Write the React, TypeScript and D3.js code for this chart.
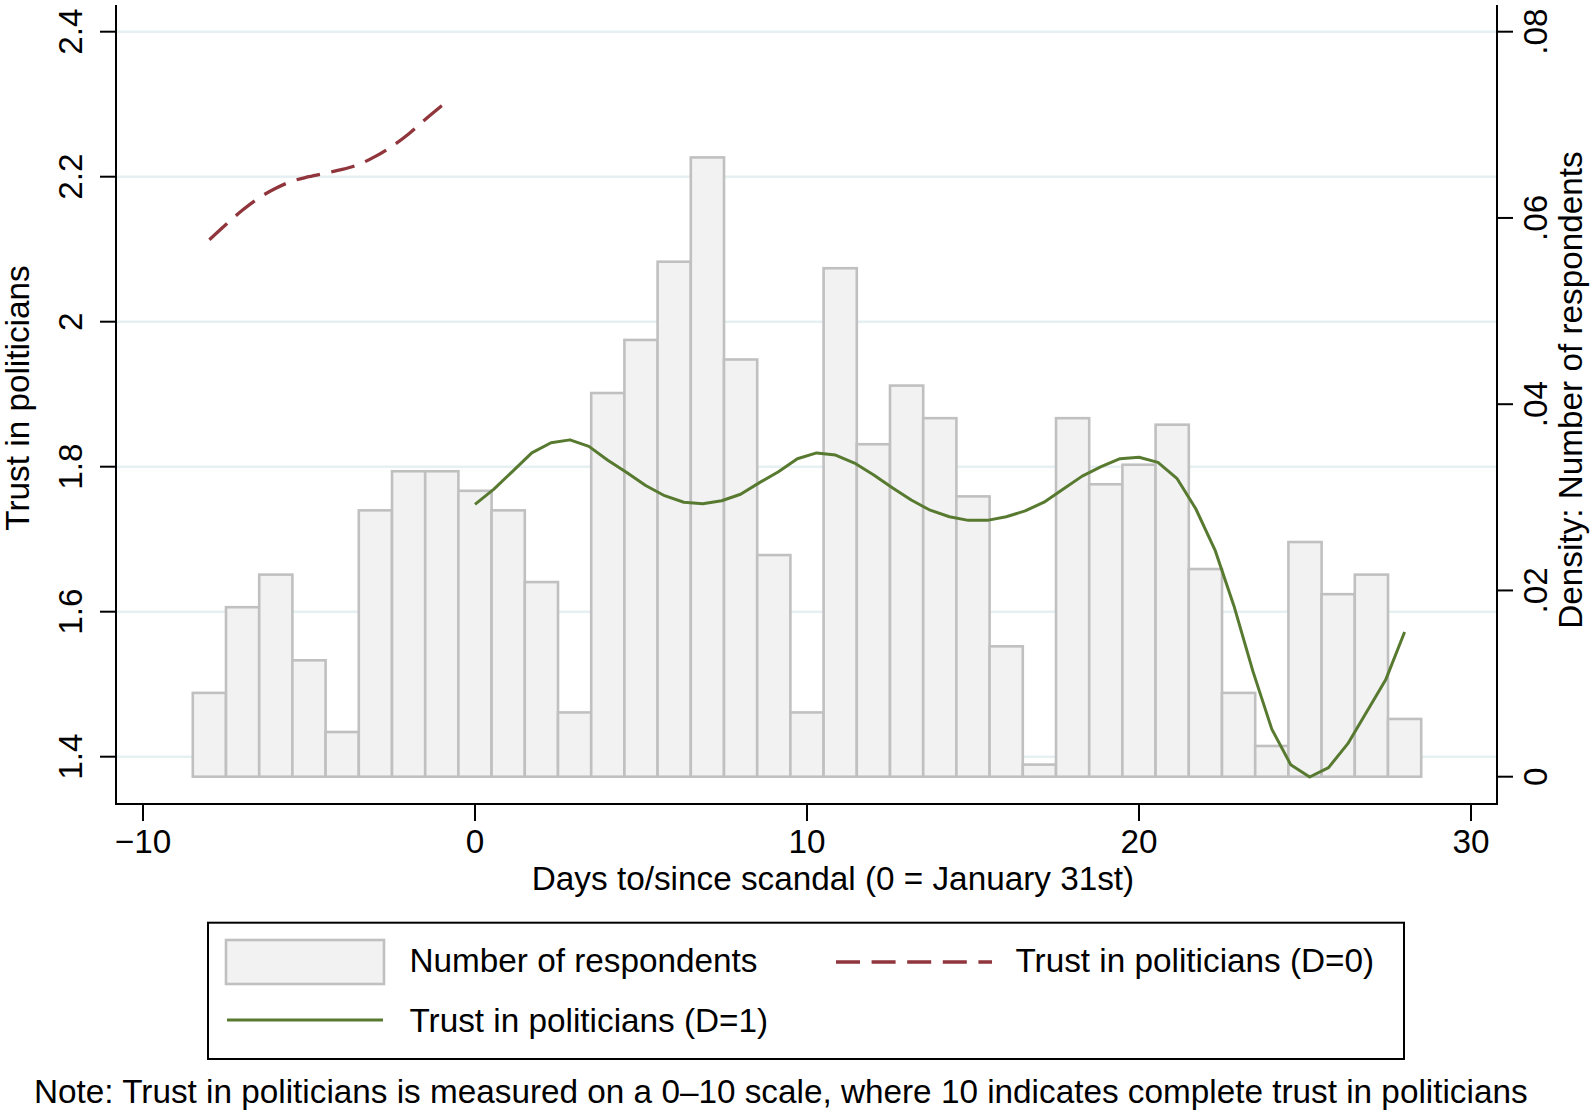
import React from "react";
import * as d3 from "d3";

// ---------- data ----------
const barDays = [-8, -7, -6, -5, -4, -3, -2, -1, 0, 1, 2, 3, 4, 5, 6, 7, 8, 9, 10, 11, 12, 13, 14, 15, 16, 17, 18, 19, 20, 21, 22, 23, 24, 25, 26, 27, 28];
const barDensity = [0.0090, 0.0182, 0.0217, 0.0125, 0.0048, 0.0286, 0.0328, 0.0328, 0.0307, 0.0286, 0.0209, 0.0069, 0.0412, 0.0469, 0.0553, 0.0665, 0.0448, 0.0238, 0.0069, 0.0546, 0.0357, 0.0420, 0.0385, 0.0301, 0.0140, 0.0013, 0.0385, 0.0314, 0.0335, 0.0378, 0.0223, 0.0090, 0.0033, 0.0252, 0.0196, 0.0217, 0.0062];

const d1Days = [0, 0.57, 1.14, 1.71, 2.29, 2.86, 3.43, 4.0, 4.57, 5.14, 5.71, 6.29, 6.86, 7.43, 8.0, 8.57, 9.14, 9.71, 10.29, 10.86, 11.43, 12.0, 12.57, 13.14, 13.71, 14.29, 14.86, 15.43, 16.0, 16.57, 17.14, 17.71, 18.29, 18.86, 19.43, 20.0, 20.57, 21.14, 21.71, 22.29, 22.86, 23.43, 24.0, 24.57, 25.14, 25.71, 26.29, 26.86, 27.43, 28.0];
const d1Trust = [1.748, 1.769, 1.794, 1.819, 1.833, 1.837, 1.828, 1.809, 1.792, 1.774, 1.760, 1.751, 1.749, 1.753, 1.762, 1.778, 1.793, 1.811, 1.819, 1.816, 1.805, 1.789, 1.771, 1.754, 1.740, 1.731, 1.726, 1.726, 1.731, 1.739, 1.751, 1.769, 1.787, 1.800, 1.811, 1.813, 1.806, 1.784, 1.742, 1.685, 1.608, 1.518, 1.438, 1.389, 1.372, 1.385, 1.418, 1.462, 1.506, 1.572];

const d0Days = [-8, -7.5, -7, -6.5, -6, -5.5, -5, -4.5, -4, -3.5, -3, -2.5, -2, -1.5, -1];
const d0Trust = [2.113, 2.134, 2.154, 2.171, 2.184, 2.194, 2.2, 2.205, 2.21, 2.217, 2.228, 2.242, 2.259, 2.279, 2.298];

const xTicks = [-10, 0, 10, 20, 30];
const xTickLabels = ["\u221210", "0", "10", "20", "30"];
const leftTicks = [1.4, 1.6, 1.8, 2.0, 2.2, 2.4];
const leftTickLabels = ["1.4", "1.6", "1.8", "2", "2.2", "2.4"];
const rightTicks = [0, 0.02, 0.04, 0.06, 0.08];
const rightTickLabels = ["0", ".02", ".04", ".06", ".08"];

const xTitle = "Days to/since scandal (0 = January 31st)";
const leftTitle = "Trust in politicians";
const rightTitle = "Density: Number of respondents";
const legendLabels = ["Number of respondents", "Trust in politicians (D=0)", "Trust in politicians (D=1)"];
const note = "Note: Trust in politicians is measured on a 0\u201310 scale, where 10 indicates complete trust in politicians";

// ---------- style ----------
const W = 1595;
const H = 1119;
const FONT = "'Liberation Sans', Arial, Helvetica, sans-serif";
const FS = 33.3;
const GREEN = "#587a30";
const RED = "#90353b";
const BAR_FILL = "#f2f2f2";
const BAR_STROKE = "#c0c0c0";
const GRID = "#e6eff2";

export default function App() {
  const x = d3.scaleLinear().domain([-10, 30]).range([143, 1471]);
  const yL = d3.scaleLinear().domain([1.4, 2.4]).range([756.7, 31.7]);
  const yR = d3.scaleLinear().domain([0, 0.08]).range([776.7, 31.7]);

  const axL = 116, axR = 1497, axB = 804, axT = 5;

  const greenLine = d3
    .line<number>()
    .x((_, i) => x(d1Days[i]))
    .y((d) => yL(d))
    .curve(d3.curveLinear)(d1Trust) as string;

  const redLine = d3
    .line<number>()
    .x((_, i) => x(d0Days[i]))
    .y((d) => yL(d))
    .curve(d3.curveMonotoneX)(d0Trust) as string;

  const bw = x(1) - x(0);

  return (
    <svg
      width={W}
      height={H}
      viewBox={`0 0 ${W} ${H}`}
      style={{ position: "absolute", left: 0, top: 0, display: "block", background: "#fff" }}
      fontFamily={FONT}
    >
      <rect x={0} y={0} width={W} height={H} fill="#fff" />
      {/* gridlines */}
      {leftTicks.map((t) => (
        <line key={"g" + t} x1={axL} x2={axR} y1={yL(t)} y2={yL(t)} stroke={GRID} strokeWidth={2.5} />
      ))}
      {/* bars */}
      {barDays.map((d, i) => (
        <rect
          key={"b" + d}
          x={x(d) - bw / 2}
          y={yR(barDensity[i])}
          width={bw}
          height={yR(0) - yR(barDensity[i])}
          fill={BAR_FILL}
          stroke={BAR_STROKE}
          strokeWidth={2.6}
        />
      ))}
      {/* lines */}
      <path d={redLine} fill="none" stroke={RED} strokeWidth={3.3} strokeDasharray="24 11.6" />
      <path d={greenLine} fill="none" stroke={GREEN} strokeWidth={3} strokeLinejoin="round" />

      {/* axes */}
      <line x1={axL} x2={axL} y1={axT} y2={axB + 1} stroke="#000" strokeWidth={2} />
      <line x1={axR} x2={axR} y1={axT} y2={axB + 1} stroke="#000" strokeWidth={2} />
      <line x1={axL} x2={axR + 1} y1={axB} y2={axB} stroke="#000" strokeWidth={2} />

      {/* x ticks */}
      {xTicks.map((t, i) => (
        <g key={"x" + t}>
          <line x1={x(t)} x2={x(t)} y1={axB} y2={axB + 17} stroke="#000" strokeWidth={2} />
          <text x={x(t)} y={853} fontSize={FS} textAnchor="middle" fill="#000">
            {xTickLabels[i]}
          </text>
        </g>
      ))}
      {/* left ticks */}
      {leftTicks.map((t, i) => (
        <g key={"l" + t}>
          <line x1={axL - 16} x2={axL} y1={yL(t)} y2={yL(t)} stroke="#000" strokeWidth={2} />
          <text
            transform={`translate(82,${yL(t)}) rotate(-90)`}
            fontSize={FS}
            textAnchor="middle"
            fill="#000"
          >
            {leftTickLabels[i]}
          </text>
        </g>
      ))}
      {/* right ticks */}
      {rightTicks.map((t, i) => (
        <g key={"r" + t}>
          <line x1={axR} x2={axR + 16} y1={yR(t)} y2={yR(t)} stroke="#000" strokeWidth={2} />
          <text
            transform={`translate(1547,${yR(t)}) rotate(-90)`}
            fontSize={FS}
            textAnchor="middle"
            fill="#000"
          >
            {rightTickLabels[i]}
          </text>
        </g>
      ))}

      {/* axis titles */}
      <text x={833} y={890} fontSize={FS} textAnchor="middle" fill="#000">
        {xTitle}
      </text>
      <text transform={`translate(29,398) rotate(-90)`} fontSize={FS} textAnchor="middle" fill="#000">
        {leftTitle}
      </text>
      <text transform={`translate(1582,390) rotate(-90)`} fontSize={FS} textAnchor="middle" fill="#000">
        {rightTitle}
      </text>

      {/* legend */}
      <rect x={208} y={922.7} width={1404 - 208} height={1059 - 922.7} fill="#fff" stroke="#000" strokeWidth={2} />
      <rect x={226} y={940} width={158} height={44} fill={BAR_FILL} stroke={BAR_STROKE} strokeWidth={2.6} />
      <text x={409.5} y={972} fontSize={FS} fill="#000">
        {legendLabels[0]}
      </text>
      <line x1={836} x2={992} y1={962} y2={962} stroke={RED} strokeWidth={3.3} strokeDasharray="24 11.6" />
      <text x={1015.5} y={972} fontSize={FS} fill="#000">
        {legendLabels[1]}
      </text>
      <line x1={227} x2={383} y1={1020} y2={1020} stroke={GREEN} strokeWidth={3} />
      <text x={409.5} y={1032} fontSize={FS} fill="#000">
        {legendLabels[2]}
      </text>

      {/* note */}
      <text x={34} y={1103} fontSize={FS} fill="#000">
        {note}
      </text>
    </svg>
  );
}
